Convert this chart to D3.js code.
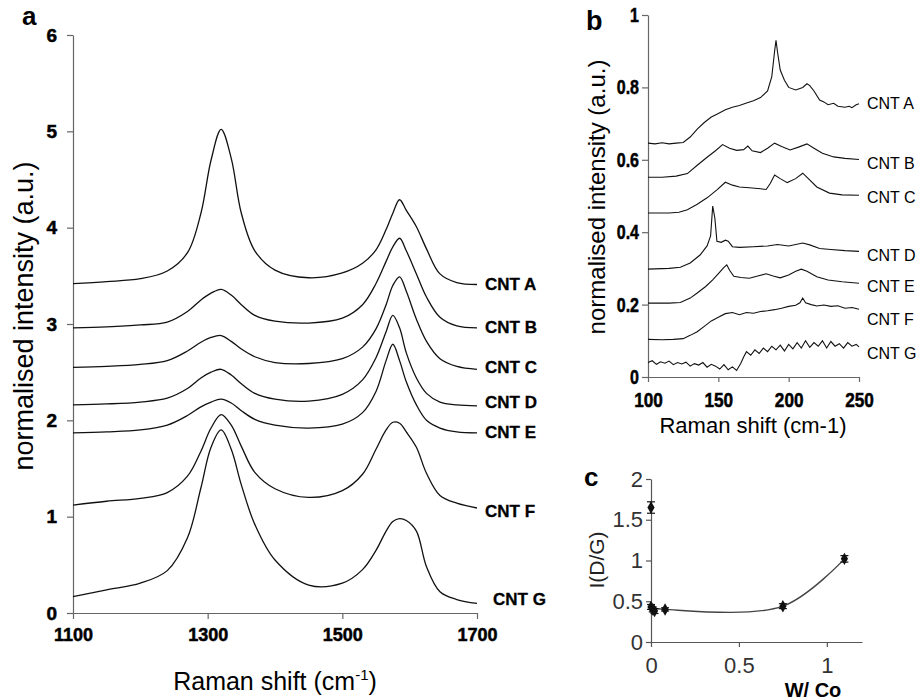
<!DOCTYPE html>
<html><head><meta charset="utf-8">
<script src="https://cdn.jsdelivr.net/npm/d3@7"></script>
<style>body{margin:0;background:#fff} svg{display:block}
.boldticks text{font-weight:bold !important; stroke:#000; stroke-width:0.5px;}
</style>
</head><body>
<svg id="chart" width="923" height="700"></svg>
<script>
// ---------- DATA ----------
// Panel a: Raman spectra (D and G bands)
const aShift = [1100,1150,1200,1240,1270,1290,1305,1320,1335,1350,1370,1400,1450,1500,1530,1550,1565,1575,1585,1595,1610,1625,1645,1670,1700];
const aCntA = [3.42,3.44,3.47,3.55,3.74,4.15,4.70,5.02,4.72,4.15,3.76,3.56,3.48,3.53,3.63,3.77,3.98,4.15,4.29,4.18,4.01,3.78,3.52,3.43,3.41];
const aCntB = [2.96,2.97,2.99,3.02,3.13,3.25,3.32,3.36,3.30,3.20,3.09,3.03,3.01,3.06,3.20,3.42,3.65,3.80,3.89,3.76,3.52,3.28,3.07,2.98,2.96];
const aCntC = [2.55,2.56,2.58,2.62,2.72,2.81,2.86,2.88,2.82,2.74,2.66,2.60,2.59,2.64,2.76,2.95,3.20,3.40,3.49,3.34,3.05,2.82,2.64,2.56,2.53];
const aCntD = [2.16,2.17,2.19,2.23,2.33,2.44,2.50,2.53,2.47,2.38,2.28,2.22,2.20,2.27,2.42,2.65,2.92,3.09,2.96,2.70,2.44,2.28,2.19,2.16,2.15];
const aCntE = [1.87,1.88,1.90,1.95,2.05,2.14,2.19,2.22,2.18,2.10,2.01,1.95,1.92,1.96,2.08,2.30,2.62,2.79,2.62,2.40,2.16,2.00,1.92,1.88,1.87];
const aCntF = [1.12,1.16,1.19,1.25,1.42,1.68,1.92,2.06,1.95,1.73,1.46,1.29,1.20,1.27,1.44,1.70,1.90,1.98,1.97,1.88,1.72,1.45,1.22,1.14,1.09];
const aCntG = [0.17,0.24,0.31,0.44,0.78,1.30,1.72,1.90,1.70,1.33,0.92,0.55,0.29,0.31,0.45,0.65,0.85,0.95,0.98,0.96,0.85,0.48,0.22,0.14,0.10];
const aNames = ["CNT A","CNT B","CNT C","CNT D","CNT E","CNT F","CNT G"];
const aXTicks = [1100,1300,1500,1700];
const aYTicks = [0,1,2,3,4,5,6];

// Panel b: low-frequency (RBM) spectra, [shift, intensity]
const bCntA = [[100,0.646],[105,0.644],[110,0.647],[115,0.644],[120,0.646],[125,0.648],[130,0.663],[135,0.685],[140,0.703],[145,0.718],[150,0.728],[155,0.738],[160,0.745],[165,0.75],[170,0.757],[175,0.763],[180,0.772],[185,0.79],[188,0.83],[190,0.90],[191,0.93],[192,0.90],[194,0.848],[197,0.82],[200,0.80],[205,0.793],[210,0.80],[213,0.81],[215,0.805],[218,0.79],[222,0.765],[225,0.76],[228,0.752],[232,0.756],[235,0.748],[240,0.745],[243,0.748],[245,0.744],[248,0.752],[250,0.755]];
const bCntB = [[100,0.552],[110,0.552],[120,0.555],[128,0.562],[135,0.585],[142,0.607],[148,0.625],[153,0.642],[158,0.632],[163,0.626],[168,0.628],[171,0.638],[174,0.625],[180,0.62],[185,0.632],[190,0.646],[195,0.637],[201,0.627],[207,0.635],[213,0.644],[218,0.632],[224,0.618],[232,0.608],[240,0.604],[250,0.601]];
const bCntC = [[100,0.453],[115,0.453],[122,0.455],[128,0.462],[135,0.477],[142,0.495],[149,0.517],[155,0.538],[160,0.53],[165,0.525],[172,0.523],[180,0.52],[184,0.518],[187,0.535],[190,0.558],[194,0.548],[199,0.537],[205,0.548],[210,0.563],[214,0.548],[220,0.525],[229,0.508],[238,0.503],[250,0.502]];
const bCntD = [[100,0.298],[115,0.3],[123,0.303],[130,0.315],[137,0.337],[142,0.362],[144.5,0.39],[146,0.472],[147.5,0.44],[149,0.375],[152,0.372],[155,0.378],[157,0.375],[160,0.36],[165,0.358],[175,0.36],[185,0.362],[192,0.366],[200,0.362],[210,0.37],[215,0.365],[222,0.355],[230,0.352],[240,0.349],[250,0.347]];
const bCntE = [[100,0.204],[115,0.204],[123,0.206],[130,0.218],[135,0.232],[141,0.25],[146,0.268],[151,0.29],[154,0.303],[156,0.31],[158,0.295],[161,0.278],[166,0.275],[172,0.273],[178,0.279],[184,0.285],[189,0.279],[194,0.274],[200,0.282],[205,0.292],[209,0.298],[213,0.292],[220,0.277],[228,0.268],[238,0.263],[250,0.259]];
const bCntF = [[100,0.104],[110,0.103],[118,0.104],[125,0.106],[130,0.115],[135,0.125],[140,0.14],[145,0.155],[150,0.165],[155,0.175],[160,0.178],[165,0.172],[170,0.178],[175,0.176],[180,0.181],[185,0.183],[190,0.186],[195,0.19],[200,0.195],[205,0.198],[208,0.205],[210,0.218],[212,0.205],[216,0.2],[220,0.196],[225,0.199],[230,0.195],[235,0.197],[240,0.19],[245,0.192],[250,0.187]];
const bCntG = [[100,0.04],[103,0.045],[106,0.035],[109,0.042],[112,0.038],[115,0.044],[118,0.034],[121,0.04],[124,0.036],[127,0.041],[130,0.03],[133,0.037],[136,0.033],[139,0.04],[142,0.027],[145,0.035],[148,0.03],[151,0.022],[154,0.034],[157,0.02],[160,0.028],[163,0.018],[166,0.038],[168,0.055],[170,0.07],[173,0.06],[176,0.075],[179,0.065],[182,0.08],[185,0.07],[188,0.085],[191,0.075],[194,0.088],[197,0.072],[200,0.09],[203,0.078],[206,0.095],[209,0.08],[212,0.1],[215,0.082],[218,0.095],[221,0.085],[224,0.1],[227,0.08],[230,0.098],[233,0.085],[236,0.092],[239,0.08],[242,0.095],[245,0.085],[248,0.09],[250,0.083]];
const bXTicks = [100,150,200,250];
const bYTicks = [0,0.2,0.4,0.6,0.8,1];

// Panel c: I(D/G) vs W/Co
const cRatio = [0, 0, 0.01, 0.02, 0.08, 0.75, 1.1];
const cIDG   = [1.65, 0.43, 0.40, 0.38, 0.40, 0.44, 1.02];
const cErr   = [0.07, 0.03, 0.03, 0.03, 0.02, 0.03, 0.04];
const cLineRatio = [0, 0.08, 0.75, 1.1];
const cLineIDG   = [0.42, 0.40, 0.44, 1.02];
const cXTicks = [0, 0.5, 1];
const cYTicks = [0, 0.5, 1, 1.5, 2];

// ---------- DRAW ----------
const svg = d3.select("#chart");
const SANS = "'Liberation Sans', Arial, Helvetica, sans-serif";

function styleAxis(g, color, size, weight) {
  g.attr("font-family", SANS).attr("font-size", size).attr("font-weight", weight);
  if (weight === "bold") g.classed("boldticks", true);
  g.select(".domain").attr("stroke", color).attr("stroke-width", 1.2);
  g.selectAll(".tick line").attr("stroke", color).attr("stroke-width", 1.2);
  g.selectAll(".tick text").attr("fill", "#000").attr("font-weight", weight)
    .style("font-family", SANS).style("font-size", size + "px").style("font-weight", weight);
}

// Panel a
const ax = d3.scaleLinear().domain([1100,1700]).range([73,477]);
const ay = d3.scaleLinear().domain([0,6]).range([613,35]);
const gA = svg.append("g");
gA.append("g").attr("transform","translate(0,613)")
  .call(d3.axisBottom(ax).tickValues(aXTicks).tickSize(6).tickPadding(9).tickSizeOuter(0).tickFormat(d3.format("d")))
  .call(g => styleAxis(g, "#666", 18, "bold"));
gA.append("g").attr("transform","translate(73,0)")
  .call(d3.axisLeft(ay).tickValues(aYTicks).tickSize(6).tickPadding(10).tickSizeOuter(0).tickFormat(d3.format("d")))
  .call(g => styleAxis(g, "#666", 19, "bold"));

const aSeries = [aCntA,aCntB,aCntC,aCntD,aCntE,aCntF,aCntG];
const aLine = d3.line().x((d,i)=>ax(aShift[i])).y(d=>ay(d)).curve(d3.curveCatmullRom.alpha(0.5));
aSeries.forEach(s => {
  gA.append("path").attr("d", aLine(s)).attr("fill","none").attr("stroke","#111").attr("stroke-width",1.3);
});
const aLabelDx = [0,0,0,0,0,0,8];
const aLabelDy = [0,0,-2,-3,0,4,-4];
aSeries.forEach((s,i) => {
  gA.append("text").attr("x", 485 + aLabelDx[i]).attr("y", ay(s[s.length-1]) + aLabelDy[i])
    .attr("dominant-baseline","central")
    .style("font-family",SANS).style("font-size","17px").style("font-weight","bold")
    .attr("stroke","#000").attr("stroke-width",0.3)
    .text(aNames[i]);
});
gA.append("text").attr("x",22).attr("y",25).style("font-family",SANS).style("font-size","26px").style("font-weight","bold").text("a");
const axTitle = gA.append("text").attr("x",275).attr("y",690).attr("text-anchor","middle")
  .style("font-family",SANS).style("font-size","25px");
axTitle.append("tspan").text("Raman shift (cm");
axTitle.append("tspan").attr("dy",-10).style("font-size","15px").text("-1");
axTitle.append("tspan").attr("dy",10).text(")");
gA.append("text").attr("transform","translate(24,316) rotate(-90)").attr("text-anchor","middle")
  .attr("dominant-baseline","central")
  .style("font-family",SANS).style("font-size","27px").text("normalised intensity (a.u.)");

// Panel b (condensed bold tick labels)
const bx = d3.scaleLinear().domain([100,250]).range([648,859]);
const by = d3.scaleLinear().domain([0,1]).range([377,15]);
const gB = svg.append("g");
const bxAxis = gB.append("g").attr("transform","translate(0,377)")
  .call(d3.axisBottom(bx).tickValues(bXTicks).tickSize(5).tickPadding(10).tickSizeOuter(0).tickFormat(d3.format("d")))
  .call(g => styleAxis(g, "#666", 21, "bold"));
bxAxis.selectAll(".tick text").attr("transform","scale(0.82,1)");
const byAxis = gB.append("g").attr("transform","translate(648,0)")
  .call(d3.axisLeft(by).tickValues(bYTicks).tickSize(6).tickPadding(3).tickSizeOuter(0).tickFormat(d => d===0||d===1 ? d3.format("d")(d) : d3.format(".1f")(d)))
  .call(g => styleAxis(g, "#666", 20, "bold"));
byAxis.selectAll(".tick text").attr("x", -9/0.8).attr("transform","scale(0.8,1)");
const bSeries = [bCntA,bCntB,bCntC,bCntD,bCntE,bCntF,bCntG];
const bLine = d3.line().x(d=>bx(d[0])).y(d=>by(d[1])).curve(d3.curveLinear);
bSeries.forEach(s => {
  gB.append("path").attr("d", bLine(s)).attr("fill","none").attr("stroke","#111").attr("stroke-width",1.1);
});
const bLabelDy = [0,4,2,4,3,10,7];
bSeries.forEach((s,i) => {
  gB.append("text").attr("x", 867).attr("y", by(s[s.length-1][1]) + bLabelDy[i])
    .attr("dominant-baseline","central")
    .style("font-family",SANS).style("font-size","16px").text(aNames[i]);
});
gB.append("text").attr("x",586).attr("y",30).style("font-family",SANS).style("font-size","27px").style("font-weight","bold").text("b");
gB.append("text").attr("x",753).attr("y",433).attr("text-anchor","middle")
  .style("font-family",SANS).style("font-size","22px").text("Raman shift (cm-1)");
gB.append("text").attr("transform","translate(596,197) rotate(-90)").attr("text-anchor","middle")
  .attr("dominant-baseline","central")
  .style("font-family",SANS).style("font-size","24px").text("normalised intensity (a.u.)");

// Panel c
const cx = d3.scaleLinear().domain([0,1.2]).range([651,862]);
const cy = d3.scaleLinear().domain([0,2]).range([642,479]);
const gC = svg.append("g");
gC.append("g").attr("transform","translate(0,642)")
  .call(d3.axisBottom(cx).tickValues(cXTicks).tickSize(5).tickPadding(10).tickSizeOuter(0).tickFormat(d3.format("")))
  .call(g => styleAxis(g, "#555", 22, "normal"));
gC.append("g").attr("transform","translate(651,0)")
  .call(d3.axisLeft(cy).tickValues(cYTicks).tickSize(5).tickPadding(3).tickSizeOuter(0).tickFormat(d3.format("")))
  .call(g => styleAxis(g, "#555", 22, "normal"));
gC.selectAll(".tick text").attr("fill","#333");
const cLine = d3.line().x((d,i)=>cx(cLineRatio[i])).y(d=>cy(d)).curve(d3.curveCatmullRom.alpha(0.5));
gC.append("path").attr("d", cLine(cLineIDG)).attr("fill","none").attr("stroke","#444").attr("stroke-width",1.4);
cIDG.forEach((v,i) => {
  const x = cx(cRatio[i]);
  gC.append("line").attr("x1",x).attr("x2",x).attr("y1",cy(v-cErr[i])).attr("y2",cy(v+cErr[i])).attr("stroke","#111").attr("stroke-width",1.2);
  [v-cErr[i], v+cErr[i]].forEach(e => {
    gC.append("line").attr("x1",x-4).attr("x2",x+4).attr("y1",cy(e)).attr("y2",cy(e)).attr("stroke","#111").attr("stroke-width",1.2);
  });
  gC.append("path").attr("transform",`translate(${x},${cy(v)})`)
    .attr("d", d3.symbol(d3.symbolDiamond, 45)()).attr("fill","#111");
});
gC.append("text").attr("x",584).attr("y",486).style("font-family",SANS).style("font-size","26px").style("font-weight","bold").text("c");
gC.append("text").attr("x",813).attr("y",697).attr("text-anchor","middle")
  .style("font-family",SANS).style("font-size","20px").style("font-weight","bold").text("W/ Co");
gC.append("text").attr("transform","translate(596,560) rotate(-90)").attr("text-anchor","middle")
  .attr("dominant-baseline","central")
  .style("font-family",SANS).style("font-size","21px").attr("fill","#222").text("I(D/G)");
</script>
</body></html>
